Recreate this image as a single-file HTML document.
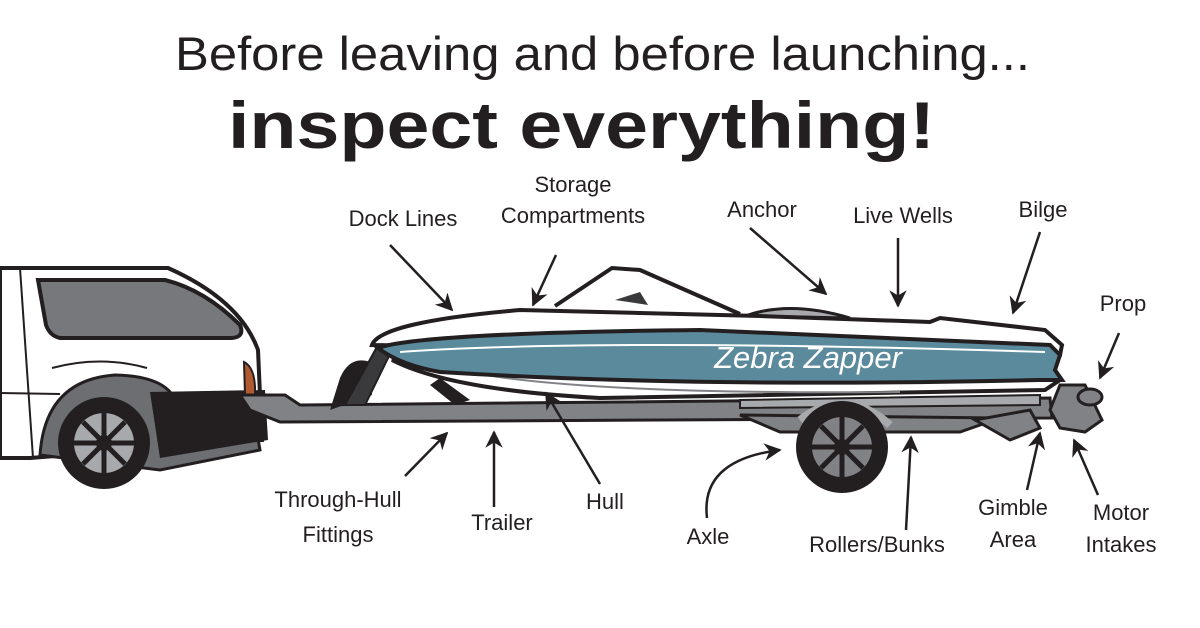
<!DOCTYPE html>
<html><head><meta charset="utf-8"><style>
html,body{margin:0;padding:0;background:#fff;width:1200px;height:628px;overflow:hidden}
svg{display:block}
text{font-family:"Liberation Sans",sans-serif;fill:#231f20}
.l{font-size:22px;text-anchor:middle}
</style></head><body>
<svg width="1200" height="628" viewBox="0 0 1200 628" xmlns="http://www.w3.org/2000/svg">
<defs>
<marker id="a" viewBox="0 0 10 10" refX="9" refY="5" markerWidth="7" markerHeight="7" orient="auto"><path d="M0,0 L10,5 L0,10 L3,5 z" fill="#231f20"/></marker>
</defs>
<text x="175" y="70" font-size="47" textLength="855" lengthAdjust="spacingAndGlyphs">Before leaving and before launching...</text>
<text x="228" y="148" font-size="66" font-weight="bold" textLength="707" lengthAdjust="spacingAndGlyphs">inspect everything!</text>

<!-- car -->
<path d="M0,268 L168,268 Q240,300 258,350 L262,440 L30,458 L0,458 Z" fill="#fff" stroke="#231f20" stroke-width="4"/>
<path d="M38,280 L165,280 Q205,290 240,325 Q245,337 232,338 L60,338 Q50,336 46,325 Z" fill="#77787b" stroke="#231f20" stroke-width="4"/>
<path d="M20,268 L33,458" stroke="#231f20" stroke-width="2"/>
<path d="M0,393 L60,394" stroke="#231f20" stroke-width="2"/>
<path d="M52,368 Q100,355 147,368" fill="none" stroke="#231f20" stroke-width="2"/>
<path d="M40,455 Q45,380 115,375 Q165,376 175,400 L250,395 L260,450 L160,470 Z" fill="#6d6e71" stroke="#231f20" stroke-width="3"/>
<path d="M150,392 L265,390 L268,440 L160,458 Z" fill="#231f20"/>
<path d="M244,362 Q256,368 255,395 L245,395 Z" fill="#b15a32" stroke="#231f20" stroke-width="2"/>
<circle cx="104" cy="443" r="46" fill="#231f20"/>
<circle cx="104" cy="443" r="30" fill="#a7a9ac"/>
<g stroke="#231f20" stroke-width="5"><path d="M104,413 V473 M74,443 H134 M83,422 L125,464 M125,422 L83,464"/></g>
<circle cx="104" cy="443" r="8" fill="#231f20"/>

<!-- trailer -->
<path d="M240,395 L285,395 L300,405 L1050,398 L1052,418 L280,422 L250,410 Z" fill="#808285" stroke="#231f20" stroke-width="3"/>
<path d="M330,410 L340,378 Q350,355 370,362 L372,395 Z" fill="#231f20"/>
<path d="M345,405 L378,345 L392,350 L365,405 Z" fill="#3a3a3c" stroke="#231f20" stroke-width="2"/>
<path d="M740,400 L1040,395 L1040,405 L740,408 Z" fill="#a7a9ac" stroke="#231f20" stroke-width="2"/>
<path d="M740,415 L780,432 L960,432 L1000,418 Z" fill="#808285" stroke="#231f20" stroke-width="3"/>
<path d="M975,420 L1010,440 L1040,428 L1030,410 Z" fill="#808285" stroke="#231f20" stroke-width="3"/>
<path d="M800,420 Q845,385 890,425" fill="none" stroke="#a7a9ac" stroke-width="8"/>
<circle cx="842" cy="447" r="46" fill="#231f20"/>
<circle cx="842" cy="447" r="30" fill="#808285"/>
<g stroke="#231f20" stroke-width="5"><path d="M842,417 V477 M812,447 H872 M821,426 L863,468 M863,426 L821,468"/></g>
<circle cx="842" cy="447" r="8" fill="#231f20"/>

<!-- boat -->
<path d="M392,360 Q450,390 600,398 L1045,390 L1060,380 L1050,360 L400,360 Z" fill="#fff" stroke="#231f20" stroke-width="4"/>
<path d="M450,368 Q560,395 900,392" fill="none" stroke="#808285" stroke-width="2"/>
<path d="M440,378 L470,400 L455,405 L430,385 Z" fill="#231f20"/>
<path d="M555,306 L612,268 L640,270 L740,314" fill="none" stroke="#231f20" stroke-width="4"/>
<path d="M615,300 L640,292 L648,305 Z" fill="#3a3a3c"/>
<path d="M745,316 Q790,300 850,318 Z" fill="#a7a9ac" stroke="#231f20" stroke-width="3"/>
<path d="M372,345 Q380,322 520,310 L760,316 L930,322 L940,318 L1045,330 L1062,345 L1060,355 Z" fill="#fff" stroke="#231f20" stroke-width="4"/>
<path d="M378,348 Q420,333 700,330 L1050,345 L1060,355 L1055,370 L1062,380 L1040,380 Q700,388 440,372 Q400,365 378,348 Z" fill="#5b8a9c" stroke="#231f20" stroke-width="4"/>
<path d="M400,352 Q600,338 1045,352" fill="none" stroke="#fff" stroke-width="2"/>
<text x="808" y="368" font-size="31" font-style="italic" text-anchor="middle" style="fill:#fff">Zebra Zapper</text>
<!-- motor -->
<path d="M1060,385 L1085,385 L1102,420 L1085,432 L1060,428 L1050,410 Z" fill="#808285" stroke="#231f20" stroke-width="3"/>
<ellipse cx="1090" cy="397" rx="12" ry="8" fill="#808285" stroke="#231f20" stroke-width="3"/>

<!-- arrows -->
<g stroke="#231f20" stroke-width="2.5" fill="none" marker-end="url(#a)">
<path d="M390,245 L452,310"/>
<path d="M556,255 L533,305"/>
<path d="M750,228 L826,294"/>
<path d="M898,238 L898,306"/>
<path d="M1040,232 L1013,313"/>
<path d="M1119,333 L1100,378"/>
<path d="M405,476 L447,433"/>
<path d="M494,507 L494,432"/>
<path d="M600,484 L546,393"/>
<path d="M707,518 Q700,460 780,450"/>
<path d="M906,530 L911,437"/>
<path d="M1027,490 L1040,433"/>
<path d="M1098,495 L1074,440"/>
</g>

<!-- labels -->
<text class="l" x="403" y="226">Dock Lines</text>
<text class="l" x="573" y="192">Storage</text>
<text class="l" x="573" y="223">Compartments</text>
<text class="l" x="762" y="217">Anchor</text>
<text class="l" x="903" y="223">Live Wells</text>
<text class="l" x="1043" y="217">Bilge</text>
<text class="l" x="1123" y="311">Prop</text>
<text class="l" x="338" y="507">Through-Hull</text>
<text class="l" x="338" y="542">Fittings</text>
<text class="l" x="502" y="530">Trailer</text>
<text class="l" x="605" y="509">Hull</text>
<text class="l" x="708" y="544">Axle</text>
<text class="l" x="877" y="552">Rollers/Bunks</text>
<text class="l" x="1013" y="515">Gimble</text>
<text class="l" x="1013" y="547">Area</text>
<text class="l" x="1121" y="520">Motor</text>
<text class="l" x="1121" y="552">Intakes</text>
</svg>
</body></html>
